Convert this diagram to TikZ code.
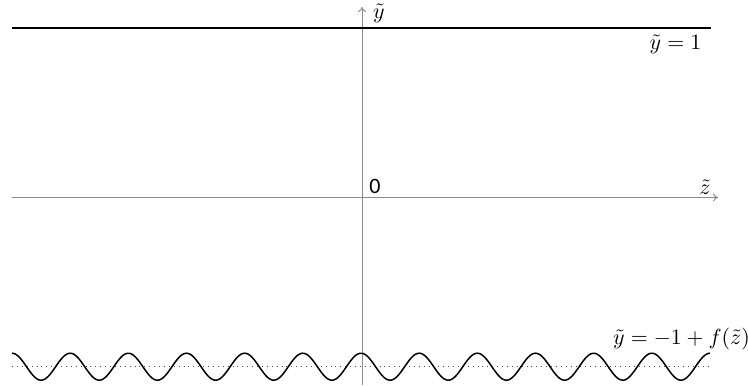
\documentclass[tikz,border=0pt]{standalone}
\usepackage{fontspec}
\usetikzlibrary{arrows.meta}
\newfontfamily\zerofont{Carlito}
\begin{document}
\begin{tikzpicture}[x=0.5pt,y=-0.5pt,
  axisline/.style={draw=black!45, line width=0.5pt, -{To[length=2.5pt,width=4pt]}},
  wallline/.style={draw=black, line width=1pt},
  waveline/.style={draw=black, line width=0.75pt},
  meanline/.style={draw=black!70, line width=0.45pt, dotted},
  lbl/.style={inner sep=0pt, font=\fontsize{10.5}{12.6}\selectfont}]
\useasboundingbox (0,0) rectangle (748,385);
% coordinates
\coordinate (yb) at (362,385);
\coordinate (yt) at (362,7);
\coordinate (zl) at (12,197.5);
\coordinate (zr) at (718,197.5);
\coordinate (tl) at (12,28.3);
\coordinate (tr) at (711,28.3);
\coordinate (ml) at (12,366.7);
\coordinate (mr) at (710,366.7);
% axes
\draw[axisline] (yb) -- (yt);
\draw[axisline] (zl) -- (zr);
% top wall
\draw[wallline] (tl) -- (tr);
% mean line of bottom wall
\draw[meanline] (ml) -- (mr);
% wavy bottom wall
\draw[waveline] plot[domain=12:710, samples=400, smooth] (\x, {366.7-13.5*cos(6.18911*(\x-12))});
% labels
\node[lbl] (ylab) at (379,13) {$\tilde y$};
\node[lbl] (zlab) at (705,187) {$\tilde z$};
\node[lbl] (olab) at (375,186) {\zerofont\fontsize{11}{13}\selectfont 0};
\node[lbl] (toplab) at (675.5,44) {$\tilde y = 1$};
\node[lbl] (botlab) at (681.5,339.5) {$\tilde y = -1 + f(\tilde z)$};
\end{tikzpicture}
\end{document}
